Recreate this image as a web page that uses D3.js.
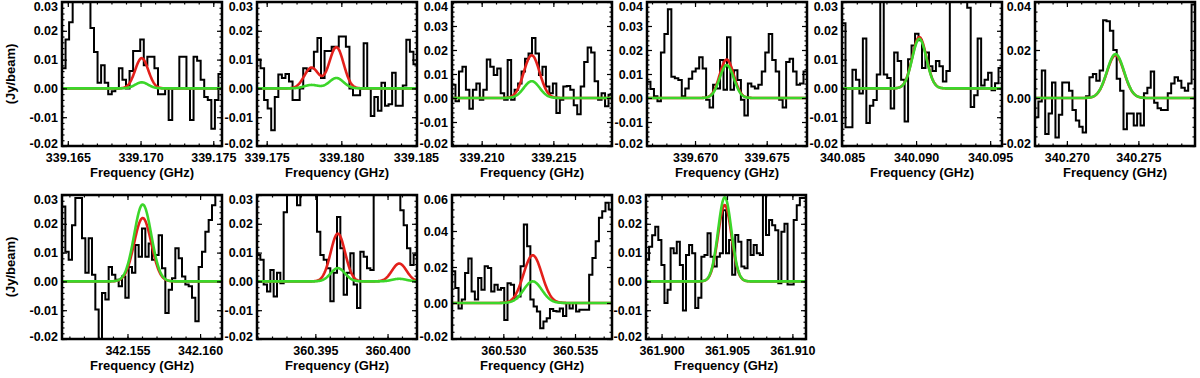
<!DOCTYPE html>
<html>
<head>
<meta charset="utf-8">
<script src="https://d3js.org/d3.v7.min.js"></script>
<style>
  body { margin: 0; background: #fff; }
  svg { display: block; }
  text { font-family: "Liberation Sans", Arial, sans-serif; font-weight: bold; fill: #000; }
</style>
</head>
<body>
<svg id="chart" width="1200" height="378"></svg>
<script>
// frequency range (GHz) of each panel
const freqRanges = [
  [339.1646, 339.1756], [339.17435, 339.18507], [339.20793, 339.21909],
  [339.66665, 339.67781], [340.0850, 340.0958], [340.26777, 340.27896],
  [342.15049, 342.16151], [360.39096, 360.40204], [360.52642, 360.53758],
  [361.89881, 361.91104]
];
// flux range (Jy/beam) of each panel
const fluxRanges = [
  [-0.02, 0.03], [-0.02, 0.03], [-0.02, 0.04], [-0.02, 0.04], [-0.02, 0.03],
  [-0.02, 0.04], [-0.02, 0.03], [-0.02, 0.03], [-0.02, 0.06], [-0.02, 0.03]
];
const freqTicks = [
  [339.165, 339.170, 339.175], [339.175, 339.180, 339.185], [339.210, 339.215],
  [339.670, 339.675], [340.085, 340.090, 340.095], [340.270, 340.275],
  [342.155, 342.160], [360.395, 360.400], [360.530, 360.535],
  [361.900, 361.905, 361.910]
];
const fluxTickStep = [0.01, 0.01, 0.01, 0.01, 0.01, 0.02, 0.01, 0.01, 0.02, 0.01];

// observed spectra, one value per channel
const flux1 = [0.007, 0.017, 0.023, 0.04, 0.04, 0.04, 0.04, 0.04, 0.021, 0.0126, 0.002, 0.008, 0.002, -0.002, -0.001, 0.0, 0.007, 0.003, 0.0, 0.006, 0.013, 0.013, 0.017, 0.008, 0.011, 0.011, 0.007, -0.002, -0.002, 0.0, -0.011, 0.0, 0.0, 0.011, 0.011, 0.0, -0.011, 0.011, 0.0096, 0.003, -0.003, -0.004, -0.014, -0.004, 0.005];
const flux2 = [0.010, 0.007, -0.004, -0.007, -0.0145, -0.003, 0.0048, 0.0036, 0.005, 0.0024, -0.004, -0.004, 0.0, 0.007, 0.006, 0.007, 0.0127, 0.0175, 0.0036, 0.013, 0.013, 0.0145, 0.0145, 0.018, 0.018, 0.0145, 0.0, -0.0024, -0.0024, 0.0, 0.0157, 0.0, -0.0096, -0.003, -0.0078, 0.002, -0.006, -0.0055, 0.0054, -0.006, -0.006, 0.001, 0.0169, 0.0127, 0.0084];
const flux3 = [0.0055, -0.0014, 0.011, 0.013, 0.0034, -0.0045, 0.0034, 0.006, -0.0007, 0.0034, 0.016, 0.013, 0.0096, 0.0123, 0.002, -0.0007, 0.0158, -0.0007, 0.0034, 0.006, 0.011, 0.0164, 0.0185, 0.025, 0.0185, 0.0096, 0.013, 0.0048, 0.002, 0.006, -0.0062, -0.0007, 0.0048, 0.005, 0.0034, -0.003, -0.0068, 0.0048, 0.015, 0.021, 0.019, 0.007, -0.0007, 0.002, -0.0034, 0.0014];
const flux4 = [0.0068, 0.0037, 0.0007, -0.0014, 0.019, 0.0267, 0.037, 0.0089, 0.0082, 0.0075, 0.0007, 0.004, 0.008, 0.011, 0.0123, 0.017, 0.0123, -0.0007, -0.004, 0.0055, 0.004, 0.0158, 0.0034, 0.0253, 0.0034, 0.0116, 0.0075, -0.0007, -0.0073, 0.006, 0.0048, 0.004, 0.0055, 0.011, 0.019, 0.0267, 0.0158, 0.011, -0.0007, -0.004, 0.015, 0.0164, 0.011, 0.0055, 0.006, 0.011];
const flux5 = [0.0226, -0.0135, -0.0135, 0.0065, 0.003, -0.0018, 0.0173, -0.012, -0.006, -0.004, 0.0048, 0.04, 0.0048, 0.0036, -0.007, 0.0125, 0.0095, 0.003, -0.0115, 0.0101, 0.0149, 0.019, 0.0167, 0.0071, 0.0125, 0.0077, 0.006, 0.0095, 0.0077, 0.0024, 0.006, 0.04, 0.04, 0.04, 0.04, 0.04, 0.028, -0.0065, -0.0024, 0.0173, 0.001, 0.003, 0.0054, -0.0006, 0.0018, 0.0071];
const flux6 = [-0.008, -0.0015, 0.0115, -0.015, -0.0065, 0.0065, -0.0165, -0.007, 0.0065, 0.0065, 0.003, -0.005, -0.0094, -0.012, -0.0144, 0.0007, 0.0086, 0.01, 0.0072, 0.0115, 0.0324, 0.032, 0.028, 0.02, 0.008, 0.003, -0.013, -0.0065, -0.0065, -0.0115, -0.0065, -0.0115, 0.002, 0.0043, 0.011, -0.002, -0.0043, -0.005, -0.005, 0.002, 0.006, 0.0086, 0.0072, 0.0043, 0.003, 0.006, 0.039];
const flux7 = [0.026, 0.0103, 0.0075, 0.0195, 0.029, 0.029, 0.015, 0.003, 0.015, 0.0023, -0.0098, -0.025, -0.004, -0.0063, 0.005, 0.0023, 0.0006, -0.0017, 0.0017, -0.0057, 0.005, 0.003, 0.0126, 0.0086, 0.0184, 0.0086, 0.0132, 0.0075, 0.0092, 0.016, 0.0046, -0.011, -0.0029, 0.0011, 0.0115, 0.008, 0.0017, -0.0011, -0.0017, -0.0057, -0.0138, 0.005, 0.0103, 0.0172, 0.0213, 0.0264, 0.035, 0.035];
const flux8 = [0.0092, 0.0075, -0.0011, -0.0035, 0.004, -0.0052, 0.003, -0.0006, 0.024, 0.04, 0.04, 0.04, 0.0264, 0.04, 0.04, 0.04, 0.04, 0.04, 0.0172, 0.0092, 0.0075, 0.0046, -0.0069, 0.003, 0.0224, 0.0115, -0.0046, 0.003, 0.0098, -0.0011, -0.0092, 0.0103, 0.0086, 0.0046, 0.004, 0.04, 0.04, 0.04, 0.04, 0.04, 0.04, 0.04, 0.04, 0.0247, 0.0195, 0.0115, 0.0057, 0.0092];
const flux9 = [0.0176, 0.0083, -0.003, 0.002, 0.0167, 0.0247, 0.0064, 0.002, 0.0139, 0.0074, 0.0204, 0.0195, 0.0064, 0.0101, 0.0074, 0.0083, -0.0094, 0.011, 0.0101, 0.0027, 0.0036, 0.0204, 0.0436, 0.0315, 0.002, -0.002, -0.0047, -0.014, -0.0103, -0.0085, -0.0033, -0.0044, -0.0047, -0.003, -0.0072, 0.0, -0.003, 0.0, -0.0047, -0.0038, -0.0038, -0.0038, 0.0157, 0.025, 0.0343, 0.0474, 0.051, 0.0557, 0.052];
const flux10 = [0.0075, 0.012, 0.016, 0.019, 0.0144, 0.0057, -0.0075, -0.0029, 0.0115, 0.0098, 0.0138, 0.0057, -0.0101, 0.0092, 0.0126, 0.0098, -0.0092, -0.0057, 0.0086, 0.0092, 0.0167, 0.0086, 0.0052, 0.0086, 0.0098, 0.0247, 0.0098, 0.0144, 0.0023, 0.0161, 0.0138, 0.0052, 0.0046, 0.0144, 0.0092, 0.0126, 0.0098, 0.0092, 0.035, 0.0161, 0.0213, 0.0195, 0.0178, -0.0006, 0.0172, 0.02, -0.0011, -0.0011, 0.0213, 0.0264, 0.029, 0.029];
const fluxes = [flux1, flux2, flux3, flux4, flux5, flux6, flux7, flux8, flux9, flux10];

// gaussian model lines: [centre GHz, peak Jy/beam, sigma GHz]
const redFits = [
  [[339.17008, 0.0105, 0.00045]],
  [[339.1780, 0.0072, 0.00048], [339.17967, 0.0143, 0.00048]],
  [[339.21349, 0.0178, 0.00055]],
  [[339.67221, 0.0160, 0.00049]],
  [[340.09022, 0.0178, 0.00048]],
  [[340.2734, 0.0178, 0.00060]],
  [[342.15605, 0.0220, 0.00059]],
  [[360.39656, 0.0166, 0.00050], [360.40081, 0.0062, 0.00050]],
  [[360.53205, 0.0265, 0.00064]],
  [[361.90483, 0.0265, 0.00051]]
];
const greenFits = [
  [[339.17008, 0.0021, 0.00045]],
  [[339.1780, 0.0012, 0.00048], [339.17967, 0.0036, 0.00048]],
  [[339.21349, 0.0070, 0.00055]],
  [[339.67221, 0.0137, 0.00049]],
  [[340.09022, 0.0172, 0.00048]],
  [[340.2734, 0.0183, 0.00060]],
  [[342.15605, 0.0267, 0.00059]],
  [[360.39656, 0.0046, 0.00050], [360.40081, 0.0009, 0.00050]],
  [[360.53205, 0.0120, 0.00064]],
  [[361.90483, 0.0292, 0.00051]]
];

// layout
const panelLeft = [62, 257, 452, 647, 842, 1035, 62, 257, 452, 646];
const panelTop = [2, 2, 2, 2, 2, 2, 195, 195, 195, 195];
const panelW = 160, panelH = 144;

const svg = d3.select('#chart');
const defs = svg.append('defs');

const fmtY = v => (Math.abs(v) < 1e-9 ? 0 : v).toFixed(2);
const fmtX = v => v.toFixed(3);

function rangeTicks(dom, step) {
  const a = Math.ceil(dom[0] / step - 1e-6), b = Math.floor(dom[1] / step + 1e-6);
  return d3.range(a, b + 1).map(k => +(k * step).toFixed(6));
}

function model(fits, f) {
  return d3.sum(fits, c => c[1] * Math.exp(-0.5 * ((f - c[0]) / c[2]) ** 2));
}

fluxes.forEach((flux, k) => {
  const x = d3.scaleLinear().domain(freqRanges[k]).range([0, panelW]);
  const y = d3.scaleLinear().domain(fluxRanges[k]).range([panelH, 0]);

  const g = svg.append('g')
    .attr('transform', `translate(${panelLeft[k]},${panelTop[k]})`);

  defs.append('clipPath').attr('id', 'clip' + k)
    .append('rect').attr('width', panelW).attr('height', panelH);

  const plot = g.append('g').attr('clip-path', `url(#clip${k})`);

  // histogram of channels
  const [f0, f1] = freqRanges[k];
  const df = (f1 - f0) / flux.length;
  const steps = flux.map((v, i) => [f0 + i * df, v]);
  steps.push([f1, flux[flux.length - 1]]);
  plot.append('path')
    .attr('d', d3.line().x(d => x(d[0])).y(d => y(d[1])).curve(d3.curveStepAfter)(steps))
    .attr('fill', 'none').attr('stroke', '#000').attr('stroke-width', 2);

  // model lines
  const grid = d3.range(0, 401).map(i => f0 + (f1 - f0) * i / 400);
  [[redFits[k], '#e3201b'], [greenFits[k], '#3cd62a']].forEach(([fits, col]) => {
    plot.append('path')
      .attr('d', d3.line().x(f => x(f)).y(f => y(model(fits, f)))(grid))
      .attr('fill', 'none').attr('stroke', col).attr('stroke-width', 2.6);
  });

  // axes (ticks inside, all four sides)
  const xMinor = rangeTicks(freqRanges[k], 0.001);
  const yMinor = rangeTicks(fluxRanges[k], fluxTickStep[k] / 5);
  const yMajor = rangeTicks(fluxRanges[k], fluxTickStep[k]);

  const minorAxis = (ax, vals) => ax.tickValues(vals).tickSize(-2.5).tickSizeOuter(0).tickFormat('');
  g.append('g').attr('transform', `translate(0,${panelH})`).call(minorAxis(d3.axisBottom(x), xMinor));
  g.append('g').call(minorAxis(d3.axisTop(x), xMinor));
  g.append('g').call(minorAxis(d3.axisLeft(y), yMinor));
  g.append('g').attr('transform', `translate(${panelW},0)`).call(minorAxis(d3.axisRight(y), yMinor));

  const xb = g.append('g').attr('transform', `translate(0,${panelH})`)
    .call(d3.axisBottom(x).tickValues(freqTicks[k]).tickSize(-5).tickSizeOuter(0).tickPadding(7).tickFormat(fmtX));
  g.append('g').call(d3.axisTop(x).tickValues(freqTicks[k]).tickSize(-5).tickSizeOuter(0).tickFormat(''));
  const yl = g.append('g')
    .call(d3.axisLeft(y).tickValues(yMajor).tickSize(-5).tickSizeOuter(0).tickPadding(4).tickFormat(fmtY));
  g.append('g').attr('transform', `translate(${panelW},0)`)
    .call(d3.axisRight(y).tickValues(yMajor).tickSize(-5).tickSizeOuter(0).tickFormat(''));

  g.selectAll('.domain').remove();
  g.selectAll('.tick line').attr('stroke', '#000').attr('stroke-width', 1.2);
  xb.selectAll('text').attr('font-size', 12.5);
  yl.selectAll('text').attr('font-size', 12.5)
    .attr('dy', d => d === yMajor[yMajor.length - 1] ? '0.7em' : d === yMajor[0] ? '0.15em' : '0.32em');

  // frame
  g.append('rect').attr('width', panelW).attr('height', panelH)
    .attr('fill', 'none').attr('stroke', '#000').attr('stroke-width', 2.5);

  g.append('text')
    .attr('x', panelW / 2).attr('y', panelH + 31)
    .attr('text-anchor', 'middle').attr('font-size', 13)
    .text('Frequency (GHz)');

  if (k === 0 || k === 6) {
    g.append('text')
      .attr('transform', `translate(${-47},${panelH / 2}) rotate(-90)`)
      .attr('text-anchor', 'middle').attr('font-size', 13)
      .text('(Jy/beam)');
  }
});
</script>
</body>
</html>
